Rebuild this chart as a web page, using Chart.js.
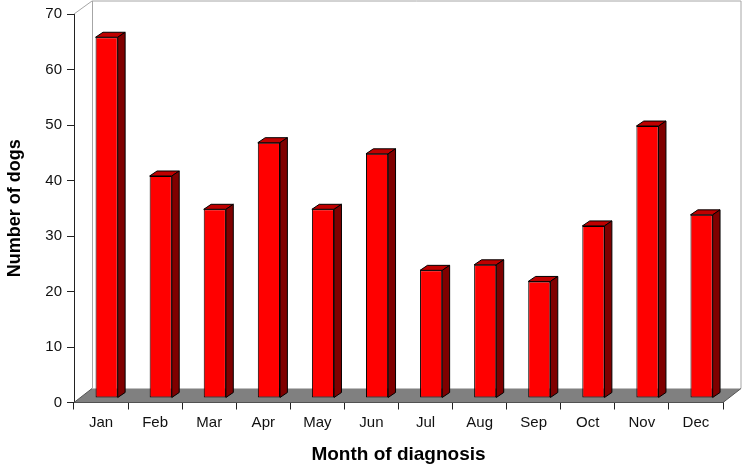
<!DOCTYPE html>
<html><head><meta charset="utf-8">
<script src="https://cdn.jsdelivr.net/npm/chart.js@4"></script>
<style>html,body{margin:0;padding:0;background:#fff}#w{position:absolute;left:0;top:0;width:742px;height:466px}</style>
</head><body><div id="w"><canvas id="c" width="742" height="466"></canvas></div>
<script>
const months = ["Jan","Feb","Mar","Apr","May","Jun","Jul","Aug","Sep","Oct","Nov","Dec"];
const dogs = [65,40,34,46,34,44,23,24,21,31,49,33];
const yTicks = [0,10,20,30,40,50,60,70];
const xTitle = "Month of diagnosis";
const yTitle = "Number of dogs";
const font = "'Liberation Sans', Arial, Helvetica, sans-serif";

const WALL = {dx:18, dy:-14, topDy:-13};
const OFFSET = {dx:5.6, dy:-4.5};
const DEPTH = {dx:7.4, dy:-5};

const plugin3d = {
  id:'plugin3d',
  beforeDatasetsDraw(chart){
    const {ctx, chartArea:a} = chart;
    const l=a.left, r=a.right, t=a.top, b=a.bottom;
    ctx.save();
    ctx.fillStyle='#808080';
    ctx.beginPath();
    ctx.moveTo(l,b);ctx.lineTo(l+WALL.dx,b+WALL.dy);ctx.lineTo(r+WALL.dx,b+WALL.dy);ctx.lineTo(r,b);ctx.closePath();
    ctx.fill();
    ctx.strokeStyle='#a6a6a6';ctx.lineWidth=1;
    ctx.beginPath();
    ctx.moveTo(l,t);ctx.lineTo(l+WALL.dx,t+WALL.topDy);ctx.lineTo(r+WALL.dx,t+WALL.topDy);ctx.lineTo(r+WALL.dx,b+WALL.dy);
    ctx.moveTo(l+WALL.dx+0.5,t+WALL.topDy);ctx.lineTo(l+WALL.dx+0.5,b+WALL.dy);
    ctx.stroke();
    ctx.strokeStyle='#555';
    ctx.beginPath();
    ctx.moveTo(l,b);ctx.lineTo(l+WALL.dx,b+WALL.dy);
    ctx.moveTo(r,b);ctx.lineTo(r+WALL.dx,b+WALL.dy);
    ctx.stroke();
    ctx.restore();
    ctx.save();
    ctx.translate(OFFSET.dx,OFFSET.dy);
  },
  afterDatasetsDraw(chart){
    const {ctx} = chart;
    chart.getDatasetMeta(0).data.forEach(bar=>{
      const p = bar.getProps(['x','y','base','width'],true);
      const x0=p.x-p.width/2, x1=p.x+p.width/2, y0=p.y, y1=p.base;
      ctx.lineWidth=1;ctx.strokeStyle='#000';
      ctx.fillStyle='#bf0000';
      ctx.beginPath();
      ctx.moveTo(x0,y0);ctx.lineTo(x0+DEPTH.dx,y0+DEPTH.dy);ctx.lineTo(x1+DEPTH.dx,y0+DEPTH.dy);ctx.lineTo(x1,y0);ctx.closePath();
      ctx.fill();ctx.stroke();
      ctx.fillStyle='#7f0000';
      ctx.beginPath();
      ctx.moveTo(x1,y0);ctx.lineTo(x1+DEPTH.dx,y0+DEPTH.dy);ctx.lineTo(x1+DEPTH.dx,y1+DEPTH.dy);ctx.lineTo(x1,y1);ctx.closePath();
      ctx.fill();ctx.stroke();
    });
    ctx.restore();
  }
};

new Chart(document.getElementById('c'),{
  type:'bar',
  plugins:[plugin3d],
  data:{labels:months,datasets:[{
    data:dogs,backgroundColor:'#ff0000',borderColor:'#000',borderWidth:1,borderSkipped:false,
    categoryPercentage:1,barPercentage:0.41,clip:false
  }]},
  options:{
    responsive:false,animation:false,devicePixelRatio:1,
    layout:{padding:{top:13.5,right:19,left:0,bottom:0}},
    plugins:{legend:{display:false},tooltip:{enabled:false},title:{display:false}},
    scales:{
      x:{
        z:1,offset:true,
        afterFit(s){s.height=63.5;},
        grid:{display:true,drawOnChartArea:false,drawTicks:true,tickLength:7,color:'#222',offset:true},
        border:{display:true,color:'#222',width:1},
        ticks:{color:'#111',font:{family:font,size:15},padding:4,maxRotation:0},
        title:{display:true,text:xTitle,color:'#000',font:{family:font,size:19,weight:'bold'},padding:{top:10,bottom:0}}
      },
      y:{
        z:1,min:0,max:70,
        afterFit(s){s.width=74;},
        afterBuildTicks(s){s.ticks=yTicks.map(v=>({value:v}));},
        grid:{display:true,drawOnChartArea:false,drawTicks:true,tickLength:7,color:'#222'},
        border:{display:true,color:'#222',width:1},
        ticks:{color:'#111',font:{family:font,size:15},padding:5},
        title:{display:true,text:yTitle,color:'#000',font:{family:font,size:18,weight:'bold'},padding:{top:4,bottom:0}}
      }
    }
  }
});
</script></body></html>
